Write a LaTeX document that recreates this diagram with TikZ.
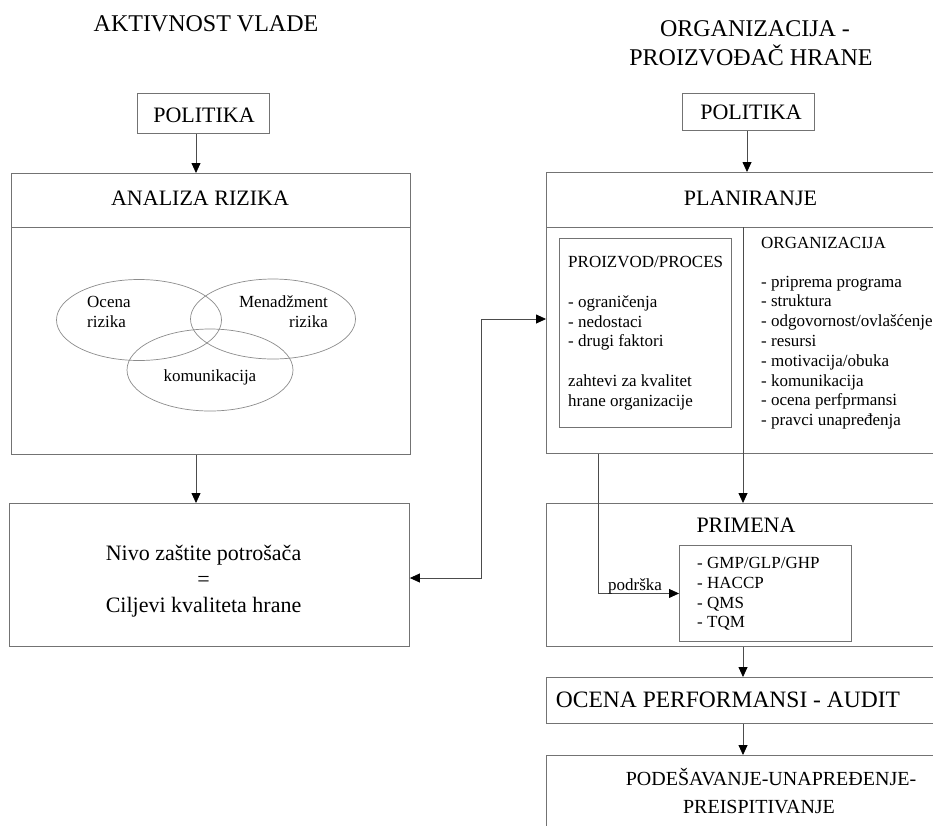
\documentclass[tikz,border=0pt]{standalone}
\usepackage{fontspec}
\setmainfont{Liberation Serif}
\usetikzlibrary{arrows.meta,shapes.geometric}
\definecolor{boxgray}{gray}{0.45}
\definecolor{arrgray}{gray}{0.3}
\definecolor{ellgray}{gray}{0.55}
\newcommand{\fTitleX}{\fontsize{24}{29}\selectfont}
\newcommand{\fMidX}{\fontsize{22}{26}\selectfont}
\newcommand{\fSmallX}{\fontsize{17}{20}\selectfont}
\tikzset{
  box/.style={draw=boxgray, line width=0.9pt, inner sep=0pt, anchor=north west},
  divline/.style={draw=boxgray, line width=0.9pt},
  ell/.style={draw=ellgray, line width=0.7pt, ellipse, inner sep=0pt},
  txt/.style={inner sep=0pt},
  arr/.style={draw=arrgray, line width=0.8pt, -{Triangle[length=10pt,width=9pt,color=black]}},
  arrboth/.style={draw=arrgray, line width=0.8pt, {Triangle[length=10pt,width=9pt,color=black]}-{Triangle[length=10pt,width=9pt,color=black]}}
}
\begin{document}
\begin{tikzpicture}[x=1pt,y=-1pt]
\useasboundingbox (0,0) rectangle (933,825);
\clip (0,0) rectangle (933,825);
\fill[white] (0,0) rectangle (933,825);

% helper coordinates
\coordinate (aL) at (196,0);
\coordinate (aR) at (747,0);
\coordinate (aM) at (743,0);
\coordinate (sx) at (598,0);
\coordinate (dv) at (0,227);
\coordinate (j) at (481,319);
\coordinate (jb) at (481,578);

% titles
\node[txt, anchor=base, font=\fTitleX] (t1) at (206,31) {AKTIVNOST VLADE};
\node[txt, anchor=base, font=\fTitleX] (t2a) at (755,36) {ORGANIZACIJA -};
\node[txt, anchor=base, font=\fTitleX] (t2b) at (751,65) {PROIZVOĐAČ HRANE};

% ---------------- left column
\node[box, minimum width=132, minimum height=40] (polL) at (137,93) {};
\node[txt, anchor=base, font=\fMidX] (polLt) at (204,122) {POLITIKA};

\node[box, minimum width=399, minimum height=281] (anal) at (11,173) {};
\draw[divline] (anal.west |- dv) -- (anal.east |- dv);
\node[txt, anchor=base, font=\fMidX] (analT) at (200,205) {ANALIZA RIZIKA};

\node[ell, minimum width=165, minimum height=81] (e1) at (139,320) {};
\node[ell, minimum width=165, minimum height=80] (e2) at (273,319) {};
\node[ell, minimum width=166, minimum height=82] (e3) at (210,370) {};
\node[txt, anchor=base west, font=\fSmallX] (e1a) at (87,307) {Ocena};
\node[txt, anchor=base west, font=\fSmallX] (e1b) at (87,327) {rizika};
\node[txt, anchor=base east, font=\fSmallX] (e2a) at (328,307) {Menadžment};
\node[txt, anchor=base east, font=\fSmallX] (e2b) at (328,327) {rizika};
\node[txt, anchor=base, font=\fSmallX] (e3a) at (210,381) {komunikacija};

\node[box, minimum width=400, minimum height=143] (nivo) at (9,503) {};
\node[txt, anchor=base, font=\fMidX] (n1) at (203.5,560) {Nivo zaštite potrošača};
\node[txt, anchor=base, font=\fMidX] (n2) at (203.5,586) {=};
\node[txt, anchor=base, font=\fMidX] (n3) at (203.5,612) {Ciljevi kvaliteta hrane};

\draw[arr] (polL.south -| aL) -- (anal.north -| aL);
\draw[arr] (anal.south -| aL) -- (nivo.north -| aL);

% ---------------- right column
\node[box, minimum width=132, minimum height=37] (polR) at (682,93) {};
\node[txt, anchor=base, font=\fMidX] (polRt) at (751,119) {POLITIKA};

\node[box, minimum width=420, minimum height=281] (plan) at (546,172) {};
\draw[divline] (plan.west |- dv) -- (plan.east |- dv);
\node[txt, anchor=base, font=\fMidX] (planT) at (750.5,205) {PLANIRANJE};

\node[box, minimum width=172, minimum height=189] (prod) at (559,238) {};
\node[txt, anchor=base west, font=\fSmallX] (p1) at (568,267) {PROIZVOD/PROCES};
\node[txt, anchor=base west, font=\fSmallX] (p2) at (568,307) {- ograničenja};
\node[txt, anchor=base west, font=\fSmallX] (p3) at (568,327) {- nedostaci};
\node[txt, anchor=base west, font=\fSmallX] (p4) at (568,346) {- drugi faktori};
\node[txt, anchor=base west, font=\fSmallX] (p5) at (568,386) {zahtevi za kvalitet};
\node[txt, anchor=base west, font=\fSmallX] (p6) at (568,406) {hrane organizacije};

\node[txt, anchor=base west, font=\fSmallX] (o0) at (761,248) {ORGANIZACIJA};
\foreach \t [count=\i from 0] in {- priprema programa, - struktura, - odgovornost/ovlašćenje, - resursi, - motivacija/obuka, - komunikacija, - ocena perfprmansi, - pravci unapređenja}
  \node[txt, anchor=base west, font=\fSmallX] (o\i) at (761,287+19.8*\i) {\t};

\node[box, minimum width=420, minimum height=143] (prim) at (546,503) {};
\node[txt, anchor=base, font=\fMidX] (primT) at (746,532) {PRIMENA};
\node[box, minimum width=172, minimum height=96] (gmp) at (679,545) {};
\node[txt, anchor=base west, font=\fSmallX] (g1) at (697,568) {- GMP/GLP/GHP};
\node[txt, anchor=base west, font=\fSmallX] (g2) at (697,588.5) {- HACCP};
\node[txt, anchor=base west, font=\fSmallX] (g3) at (697,608) {- QMS};
\node[txt, anchor=base west, font=\fSmallX] (g4) at (697,627) {- TQM};

\node[box, minimum width=420, minimum height=46] (oce) at (546,677) {};
\node[txt, anchor=base, font=\fontsize{23.5}{28}\selectfont] (oceT) at (728,707) {OCENA PERFORMANSI - AUDIT};

\node[box, minimum width=420, minimum height=100] (pds) at (546,755) {};
\node[txt, anchor=base, font=\fontsize{20}{24}\selectfont] (pds1) at (771,785) {PODEŠAVANJE-UNAPREĐENJE-};
\node[txt, anchor=base, font=\fontsize{20}{24}\selectfont] (pds2) at (759,813) {PREISPITIVANJE};

% connectors right
\draw[arr] (polR.south -| aR) -- (plan.north -| aR);
\draw[arr] (dv -| aM) -- (prim.north -| aM);
\draw[arr] (plan.south -| sx) |- (gmp.west);
\node[txt, anchor=base, font=\fSmallX] (pod) at (635,590) {podrška};
\draw[arr] (prim.south -| aM) -- (oce.north -| aM);
\draw[arr] (oce.south -| aM) -- (pds.north -| aM);

% double arrow between columns
\draw[arrboth] (jb -| nivo.east) -- (jb) -- (j) -- (j -| plan.west);
\end{tikzpicture}
\end{document}
